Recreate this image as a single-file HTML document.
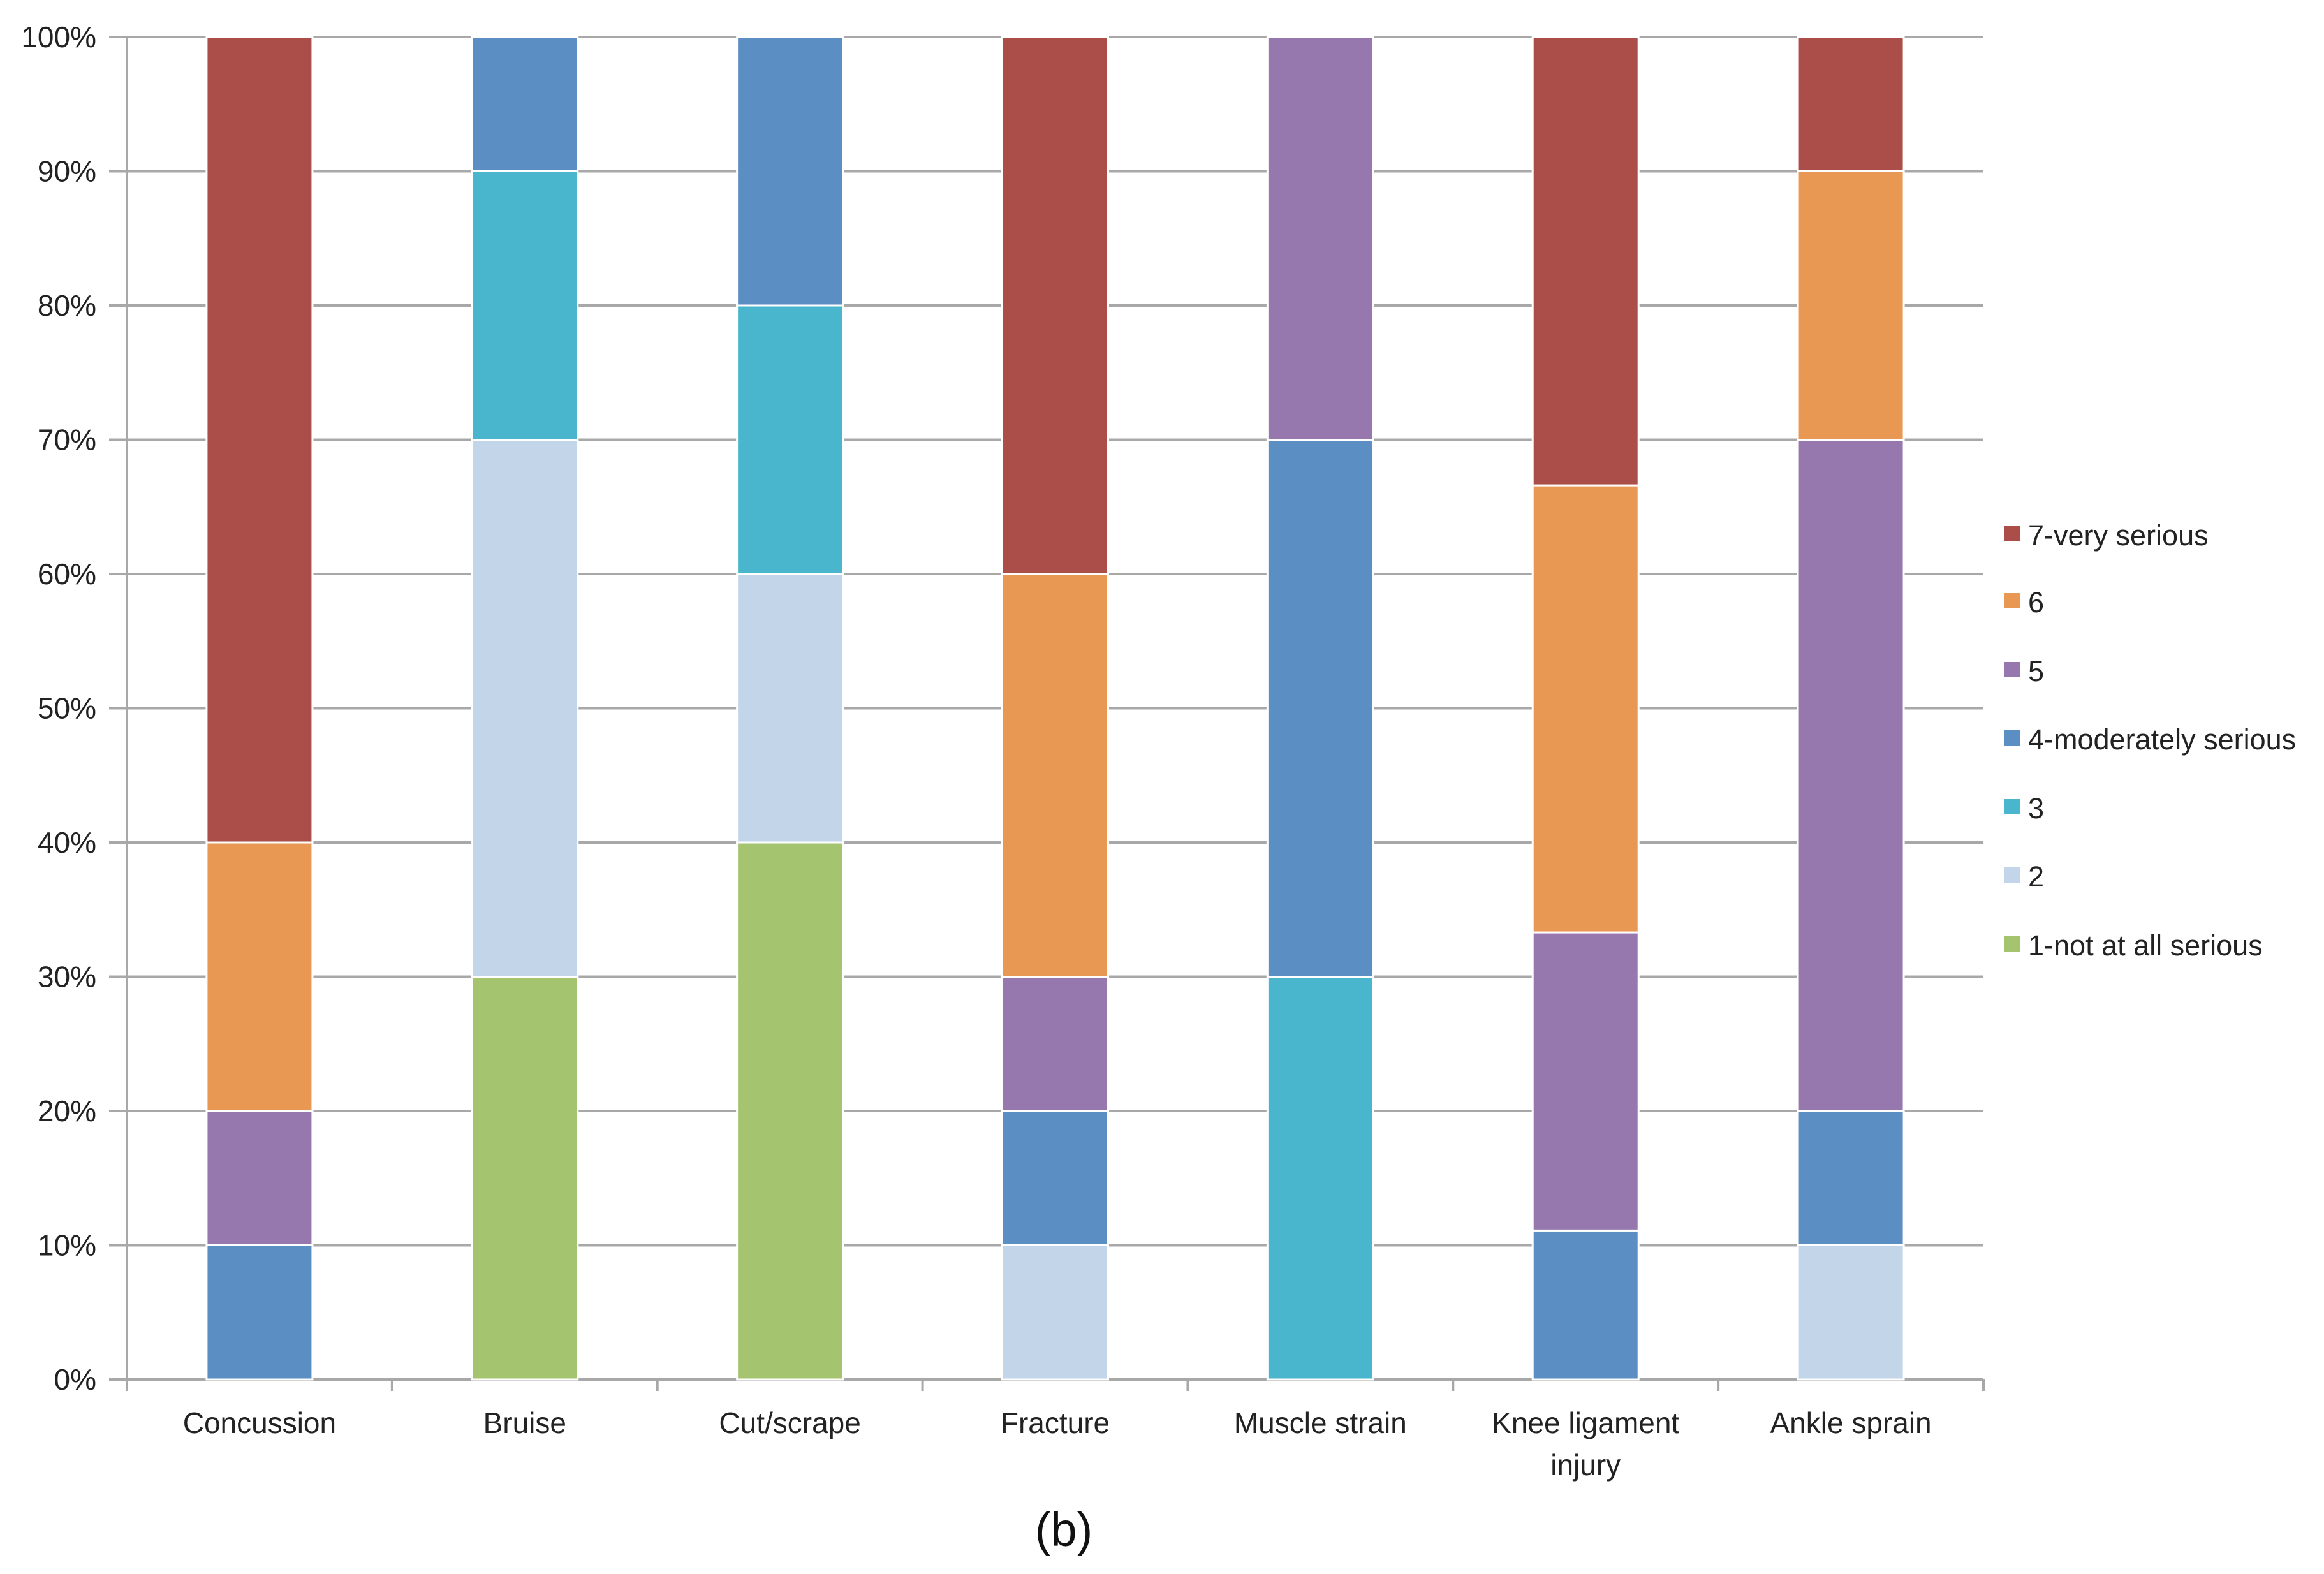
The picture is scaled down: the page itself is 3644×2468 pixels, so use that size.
<!DOCTYPE html>
<html><head><meta charset="utf-8"><style>
html,body{margin:0;padding:0;background:#fff;}
svg{display:block;font-family:"Liberation Sans",sans-serif;}
</style></head><body>
<svg id="chart" width="3644" height="2468" viewBox="0 0 3644 2468" xmlns="http://www.w3.org/2000/svg">
<g id="grid"></g>
<g id="bars"></g>
<g id="axes"></g>
<g id="legend"></g>
<text x="1668" y="2424" font-size="74" text-anchor="middle" fill="#111">(b)</text>
</svg>
<script>
const categories = ["Concussion","Bruise","Cut/scrape","Fracture","Muscle strain","Knee ligament injury","Ankle sprain"];
const seriesNames = ["1-not at all serious","2","3","4-moderately serious","5","6","7-very serious"];
const s1 = [0,30,40,0,0,0,0];
const s2 = [0,40,20,10,0,0,10];
const s3 = [0,20,20,0,30,0,0];
const s4 = [10,10,20,10,40,11.1,10];
const s5 = [10,0,0,10,30,22.2,50];
const s6 = [20,0,0,30,0,33.3,20];
const s7 = [60,0,0,40,0,33.4,10];
const yTicks = [0,10,20,30,40,50,60,70,80,90,100];
const colors = ["#A4C470","#C3D5E8","#49B6CE","#5B8EC3","#9678AE","#E99853","#AB4D48"];
const series = [s1,s2,s3,s4,s5,s6,s7];

const NS="http://www.w3.org/2000/svg";
const L=199,R=3110,T=58,B=2163;
const groupW=(R-L)/categories.length, barW=166;
function y(v){return B-(v/100)*(B-T);}
function xc(i){return L+groupW*(i+0.5);}
function mk(tag,attrs,parent){const e=document.createElementNS(NS,tag);for(const k in attrs)e.setAttribute(k,attrs[k]);parent.appendChild(e);return e;}
const grid=document.getElementById('grid'),bars=document.getElementById('bars'),axes=document.getElementById('axes'),legend=document.getElementById('legend');

yTicks.forEach(t=>{
  const ln=mk('line',{x1:L-28,x2:R,y1:y(t),y2:y(t),stroke:'#A8A8A8','stroke-width':4},grid);
  
  
  const tx=mk('text',{x:L-48,y:y(t)+16,'font-size':46,'text-anchor':'end',fill:'#222'},axes);
  tx.textContent=t+'%';
  
  
});
const ax=mk('line',{x1:L,x2:L,y1:T,y2:B+18,stroke:'#A8A8A8','stroke-width':4},axes);


for(let i=0;i<=categories.length;i++){
  const tk=mk('line',{x1:L+groupW*i,x2:L+groupW*i,y1:B,y2:B+18,stroke:'#A8A8A8','stroke-width':4},axes);
  
  
}
categories.forEach((c,i)=>{
  let acc=0;
  series.forEach((s,k)=>{
    const v=s[i];
    if(v>0){
      const r=mk('rect',{x:xc(i)-barW/2,y:y(acc+v),width:barW,height:y(acc)-y(acc+v),fill:colors[k],stroke:'#fff','stroke-width':3},bars);
      
      
    }
    acc+=v;
  });
  const words=c==="Knee ligament injury"?["Knee ligament","injury"]:[c];
  words.forEach((w,j)=>{
    const tx=mk('text',{x:xc(i),y:2247+j*66,'font-size':46,'text-anchor':'middle',fill:'#222'},axes);
    tx.textContent=w;
    
    
  });
});
const ly=[1482,1374,1267,1159,1052,944,839];
seriesNames.forEach((n,k)=>{
  const g=mk('g',{},legend);
  
  
  mk('rect',{x:3143,y:ly[k]-14,width:24,height:24,fill:colors[k]},g);
  const tx=mk('text',{x:3180,y:ly[k]+16,'font-size':45,fill:'#222'},g);
  tx.textContent=n;
});
</script>
</body></html>
